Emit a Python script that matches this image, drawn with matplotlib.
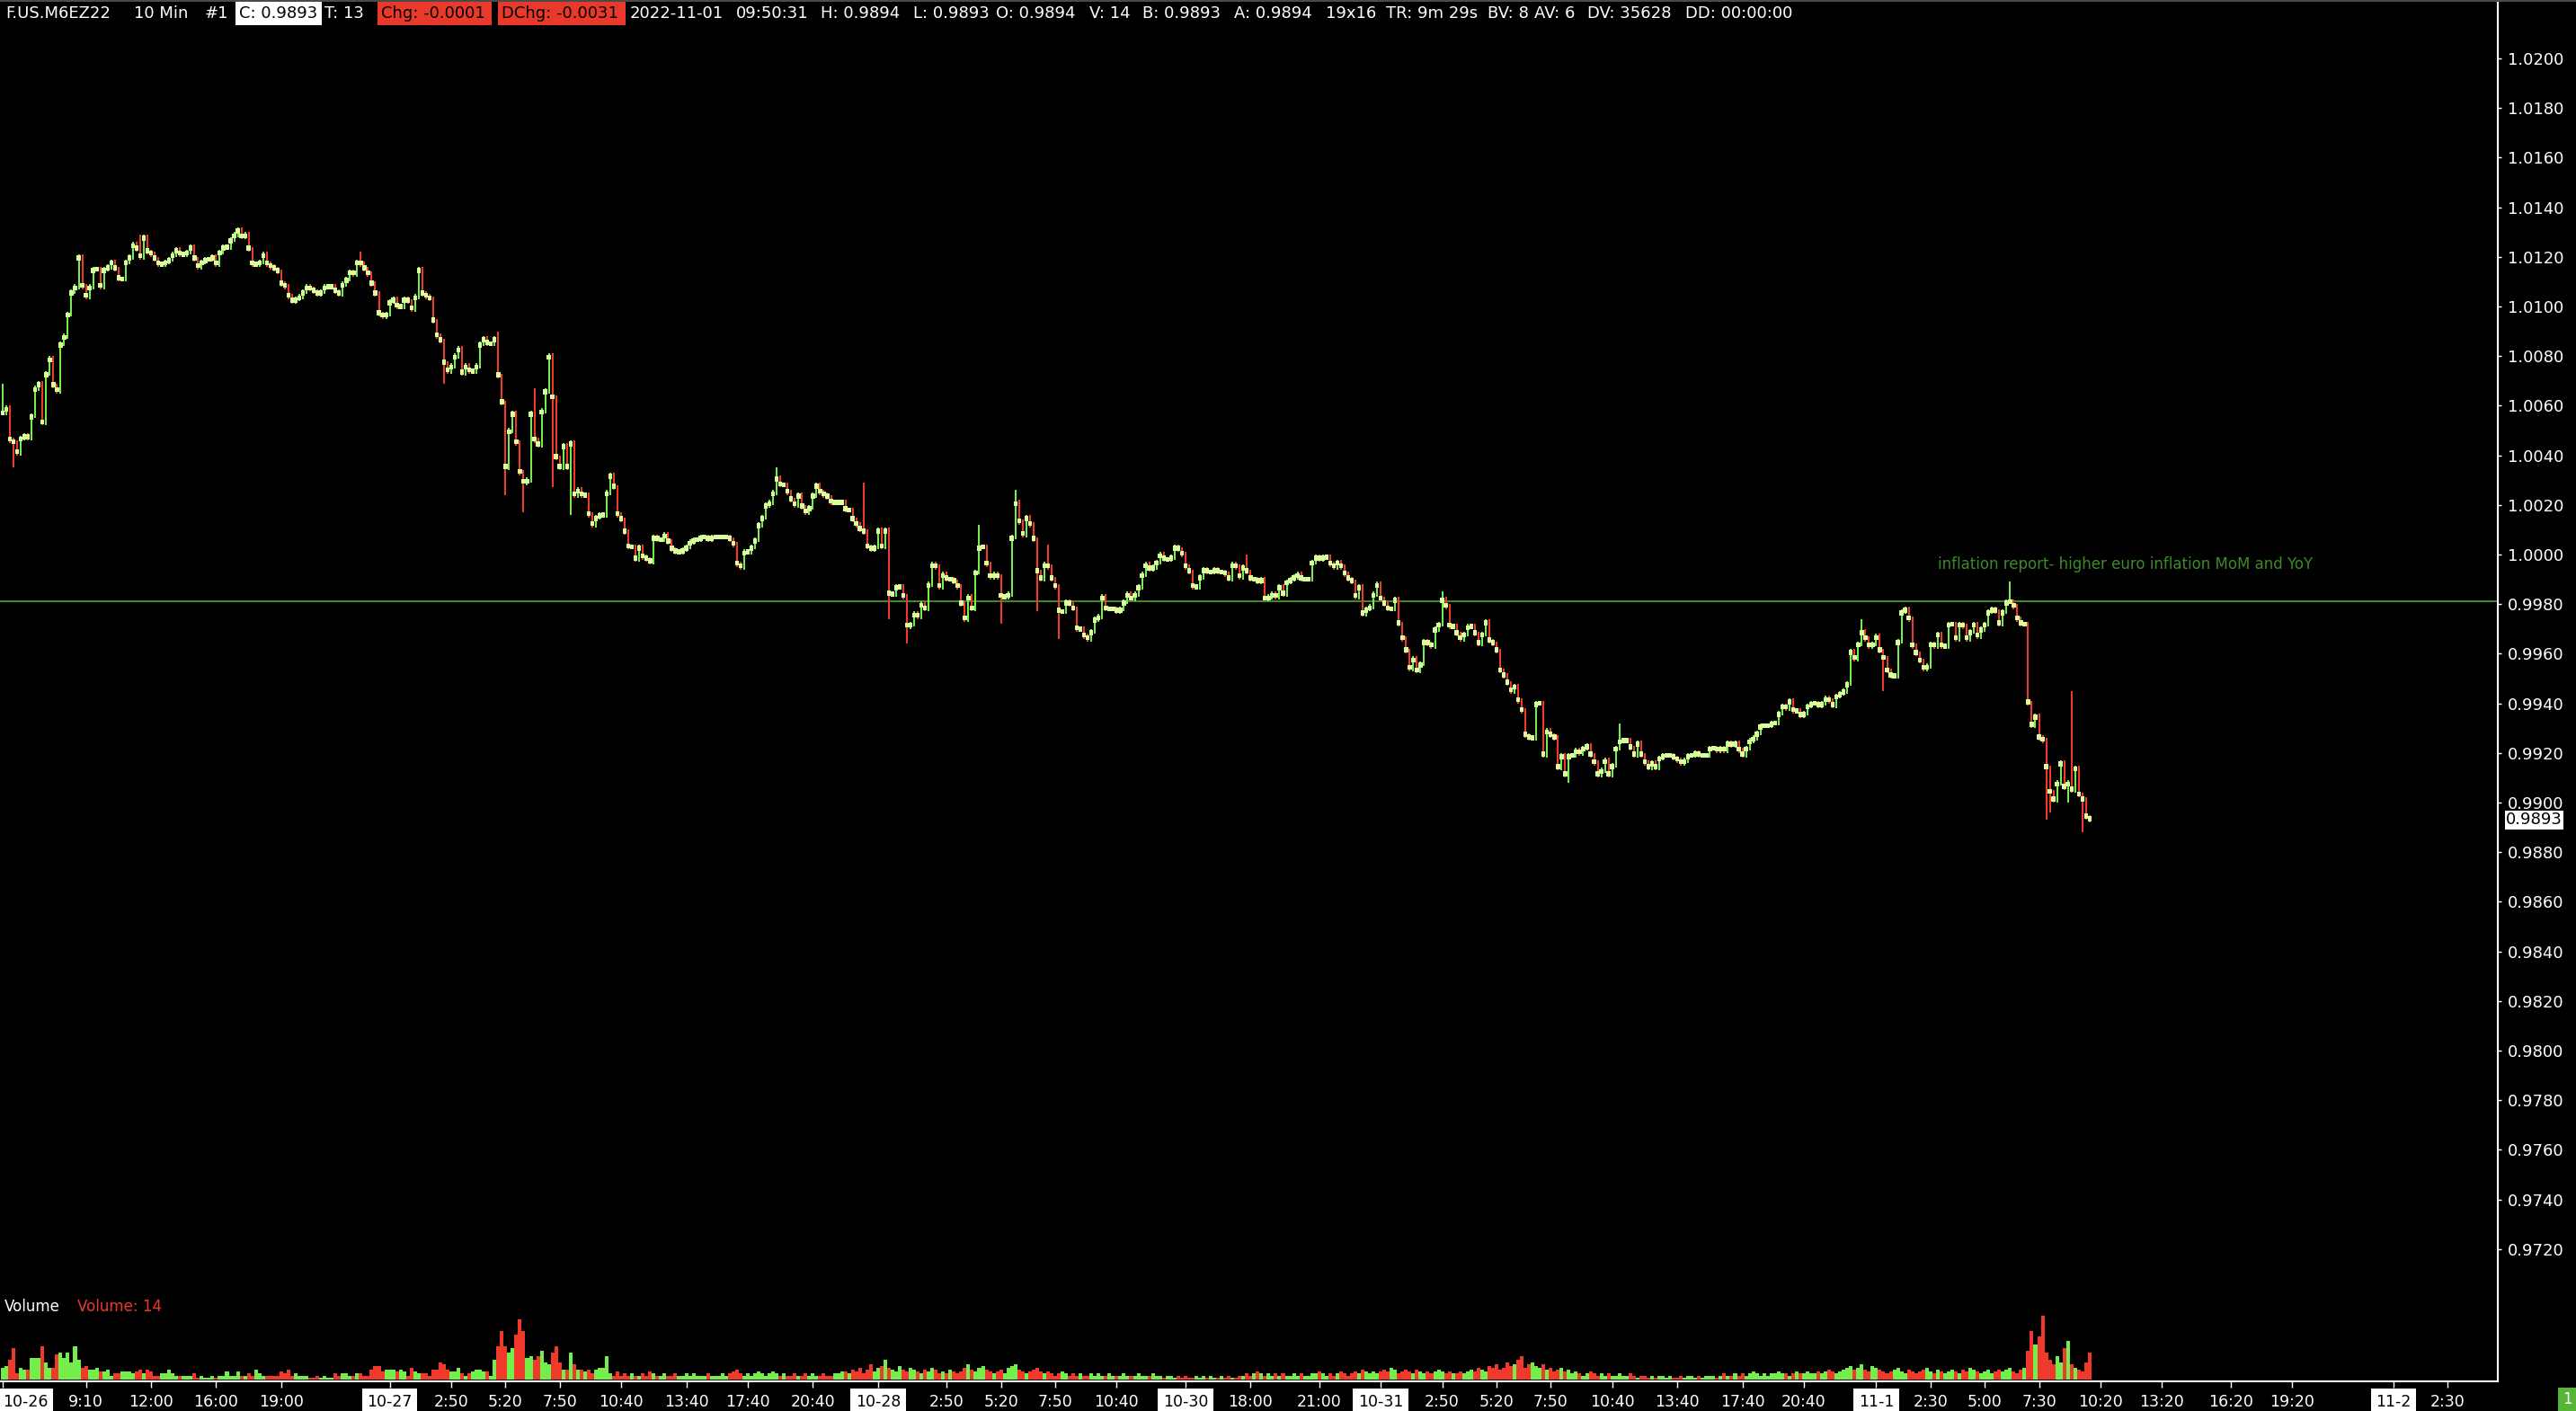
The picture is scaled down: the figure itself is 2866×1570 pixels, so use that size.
import numpy as np
import matplotlib
matplotlib.use("Agg")
import matplotlib.pyplot as plt
from matplotlib import transforms
from matplotlib.patches import Rectangle

# 10 min closes of F.US.M6EZ22 in ticks of 0.0001 (10057 -> 1.0057)
close_ticks = [
    # 10-26
    10057, 10059, 10046, 10045, 10041, 10047, 10048, 10047, 10056, 10067,
    10069, 10053, 10073, 10079, 10068, 10066, 10085, 10088, 10097, 10106,
    10108, 10120, 10108, 10104, 10108, 10115, 10115, 10108, 10115, 10116,
    10118, 10115, 10111, 10111, 10118, 10120, 10125, 10123, 10120, 10128,
    10122, 10121, 10119, 10117, 10117, 10118, 10119, 10121, 10123, 10121,
    10121, 10122, 10124, 10119, 10116, 10118, 10119, 10119, 10120, 10117,
    10122, 10124, 10124, 10127, 10129, 10131, 10128, 10129, 10123, 10117,
    10117, 10118, 10121, 10117, 10116, 10115, 10114, 10109, 10108, 10104,
    10102, 10103, 10104, 10106, 10108, 10107, 10106, 10105, 10106, 10108,
    10108, 10108, 10106, 10105, 10109, 10111, 10114, 10113, 10118, 10117,
    10115, 10113, 10109, 10105, 10097, 10096, 10097, 10102, 10103, 10100,
    10100, 10103, 10102, 10099, 10104, 10115, 10105, 10104, 10103, 10094,
    10088, 10086, 10077, 10074, 10076, 10080, 10083, 10073, 10076, 10074,
    10074, 10076, 10085, 10087, 10085, 10085, 10087, 10072, 10061, 10035,
    10050, 10057, 10045, 10033, 10029, 10030, 10057, 10046, 10044, 10058,
    10066, 10080, 10063, 10039, 10035, 10044, 10035, 10045, 10024, 10026,
    10024,
    # 10-27 afternoon / 10-28
    10024, 10016, 10012, 10015, 10016, 10016, 10025, 10032, 10027, 10016,
    10014, 10009, 10003, 10003, 9998, 10003, 9999, 9998, 9997, 10007,
    10006, 10006, 10008, 10005, 10002, 10001, 10001, 10002, 10003, 10005,
    10006, 10006, 10007, 10007, 10006, 10007, 10007, 10007, 10007, 10007,
    10006, 10004, 9996, 9995, 10001, 10001, 10003, 10006, 10012, 10015,
    10020, 10021, 10025, 10031, 10028, 10028, 10025, 10022, 10020, 10024,
    10019, 10017, 10019, 10024, 10028, 10025, 10024, 10023, 10021, 10021,
    10021, 10021, 10018, 10018, 10014, 10012, 10010, 10009, 10003, 10002,
    10003, 10010, 10003, 10010, 9984, 9984, 9987, 9987, 9983, 9971,
    9972, 9976, 9975, 9980, 9978, 9988, 9996, 9995, 9987, 9992,
    9990, 9990, 9989, 9987, 9980, 9974, 9983, 9978, 9993, 10003,
    10003, 9996, 9991, 9992, 9991, 9983, 9983, 9984, 10007, 10021,
    10013, 10008, 10015, 10012, 10006, 9993, 9990, 9996, 9995, 9990,
    9987, 9977, 9977, 9981, 9980, 9978, 9970, 9970, 9967, 9966,
    9969, 9974, 9975, 9983, 9978, 9978, 9978, 9977, 9978, 9981,
    9984, 9982, 9984, 9987, 9992, 9996, 9994, 9995, 9997, 10000,
    9998, 9998, 9999, 10003, 10002, 10000, 9995, 9993, 9987, 9987,
    9991, 9994, 9993, 9993, 9994, 9993, 9993, 9992, 9990, 9996,
    9995, 9991, 9995, 9993, 9990, 9990, 9989,
    # 10-30 / 10-31
    9990, 9982, 9983, 9984, 9983, 9987, 9984, 9989, 9990, 9991,
    9992, 9990, 9990, 9990, 9997, 9999, 9998, 9999, 9999, 9996,
    9995, 9997, 9995, 9992, 9990, 9989, 9983, 9987, 9976, 9978,
    9979, 9984, 9988, 9982, 9980, 9978, 9978, 9982, 9972, 9966,
    9961, 9954, 9958, 9953, 9956, 9965, 9964, 9963, 9970, 9972,
    9982, 9979, 9971, 9971, 9968, 9966, 9968, 9971, 9971, 9968,
    9964, 9968, 9973, 9965, 9964, 9961, 9953, 9951, 9948, 9945,
    9947, 9941, 9937, 9927, 9926, 9926, 9940, 9940, 9919, 9929,
    9927, 9926, 9914, 9919, 9911, 9919, 9919, 9921, 9920, 9922,
    9923, 9919, 9916, 9911, 9913, 9917, 9911, 9915, 9922, 9925,
    9925, 9925, 9922, 9919, 9924, 9919, 9916, 9914, 9916, 9914,
    9918, 9919, 9919, 9919, 9918, 9917, 9916, 9917, 9919, 9919,
    9920, 9919, 9919, 9919, 9922, 9922, 9921, 9922, 9921, 9924,
    9923, 9924, 9921, 9919, 9922, 9925, 9926, 9928, 9931, 9931,
    9931, 9932, 9932, 9936, 9939, 9938, 9941, 9937, 9937, 9935,
    9936, 9939, 9940, 9940, 9939, 9940, 9942, 9941, 9939, 9943,
    9944, 9945, 9948, 9961, 9958, 9964, 9969, 9966, 9963, 9964,
    9967, 9961, 9958, 9953, 9951, 9951,
    # 11-1
    9965, 9977, 9978, 9974, 9963, 9960, 9957, 9954, 9955, 9964,
    9963, 9968, 9963, 9963, 9972, 9972, 9966, 9972, 9971, 9966,
    9969, 9972, 9967, 9970, 9972, 9977, 9978, 9977, 9972, 9977,
    9981, 9981, 9979, 9974, 9972, 9972, 9940, 9931, 9935, 9926,
    9925, 9914, 9904, 9901, 9908, 9916, 9906, 9908, 9905, 9914,
    9903, 9901, 9894, 9893,
]

volume = [
    6, 7, 10, 16, 3, 6, 5, 5, 11, 11,
    11, 17, 9, 6, 6, 13, 14, 11, 14, 9,
    17, 10, 6, 7, 5, 5, 6, 4, 4, 5,
    2, 3, 3, 4, 4, 4, 3, 4, 5, 3,
    5, 4, 2, 2, 3, 3, 5, 3, 2, 2,
    2, 2, 2, 3, 1, 2, 1, 1, 2, 1,
    2, 2, 4, 2, 2, 4, 2, 2, 3, 2,
    5, 3, 2, 2, 2, 2, 2, 4, 3, 5,
    2, 3, 2, 2, 2, 1, 1, 2, 1, 2,
    1, 1, 3, 2, 3, 3, 2, 2, 3, 3,
    2, 2, 5, 7, 7, 4, 5, 5, 5, 4,
    5, 4, 2, 6, 4, 3, 3, 3, 2, 5,
    5, 9, 8, 5, 4, 4, 6, 3, 2, 3,
    4, 5, 5, 4, 4, 2, 10, 17, 25, 17,
    14, 16, 23, 31, 25, 11, 12, 10, 12, 15,
    9, 8, 14, 17, 9, 5, 5, 14, 8, 5,
    5, 4, 5, 3, 5, 6, 6, 12, 3, 2,
    4, 2, 3,
    2, 3, 2, 2, 3, 2, 4, 3, 2, 2, 3, 2, 2, 3, 2, 2, 3, 2, 3, 2,
    2, 2, 3, 2, 2, 2, 3, 2, 3, 4, 5, 3, 2, 3, 2, 3, 4, 3, 2, 3,
    4, 3, 2, 3, 2, 2, 3, 2, 2, 3, 2, 3, 2, 2, 3, 2, 2, 3, 3, 4,
    4, 3, 5, 4, 6, 3, 5, 8, 4, 6, 7, 10, 6, 5, 4, 7, 5, 4, 6, 5,
    4, 3, 5, 4, 6, 5, 3, 4, 3, 5, 4, 3, 4, 6, 8, 5, 4, 6, 7, 5,
    4, 3, 4, 5, 3, 6, 7, 8, 5, 4, 3, 4, 5, 6, 4, 3, 4, 3, 2, 3,
    4, 3, 2, 3, 2, 3, 2, 2, 3, 2, 3, 2, 2, 3, 2, 2, 2, 3, 2, 2,
    2, 3, 2, 2, 2, 3, 2, 2, 1, 2, 2, 1, 2, 1, 2, 1, 1, 2, 1, 2,
    1, 2, 1, 1, 2, 1, 2, 1, 1, 2, 2, 3, 2, 3, 4, 3, 2, 3, 2, 3,
    2, 3, 2, 2, 3, 2, 3, 2, 2, 3, 3, 4, 3, 2, 3, 2, 3, 4, 3, 2,
    3, 4, 3, 5, 4, 3, 4, 3, 4, 5, 4, 6, 5, 3, 4, 5, 4, 3, 5, 4,
    3, 4, 3, 4, 5, 4, 3, 4, 3, 3, 4, 3, 4, 5, 4, 6, 5, 4, 7, 6,
    8, 5, 6, 9, 7, 8, 10, 12, 6, 8, 9, 7, 6, 8, 5, 6, 4, 5, 6, 4,
    5, 3, 4, 3, 2, 3, 4, 3, 2, 3, 2, 3, 2, 2, 3, 2, 2, 3, 2, 1,
    2, 2, 1, 2, 1, 2, 2, 1, 2, 1, 1, 2, 1, 2, 2, 1, 2, 1, 2, 2,
    2, 1, 2, 3, 2, 2, 3, 2, 3, 2, 3, 4, 3, 2, 3, 2, 3, 3, 4, 3,
    3, 2, 3, 4, 3, 3, 4, 3, 3, 4, 3, 4, 5, 4, 3, 4, 5, 6, 7, 5,
    6, 8, 5, 4, 7, 6, 5, 4, 3, 4, 5, 6, 4, 3, 5, 4, 3, 4, 5, 6,
    4, 3, 5, 4, 3, 4, 5, 4, 3, 5, 4, 6, 5, 4, 3, 4, 5, 3, 4, 5,
    4, 5, 6, 4, 3, 5, 6, 15, 25, 18, 22, 33, 14, 10, 8, 12, 9, 16, 20, 8,
    6, 5, 4, 9, 14,
]

# bars whose wick reaches further than the neighbouring closes (bar index, price in ticks)
spike_bar = [0, 3, 38, 65, 99, 115, 122, 137, 139, 144, 147, 152, 157,
             214, 238, 245, 250, 270, 276, 280, 286, 289, 292, 344,
             398, 433, 447, 514, 520, 555, 565, 566, 571, 572, 575]
spike_ticks = [10069, 10035, 10129, 10132, 10122, 10116, 10069, 10090, 10024, 10017, 10067, 10027, 10016,
               10035, 10029, 9974, 9964, 10012, 9972, 10026, 9977, 10004, 9966, 10000,
               9985, 9908, 9932, 9974, 9945, 9989, 9893, 9896, 9900, 9945, 9888]

hline_price = 0.9981
note = "inflation report- higher euro inflation MoM and YoY"

price_ticks = [0.9720, 0.9740, 0.9760, 0.9780, 0.9800, 0.9820, 0.9840, 0.9860, 0.9880,
               0.9900, 0.9920, 0.9940, 0.9960, 0.9980, 1.0000, 1.0020, 1.0040, 1.0060,
               1.0080, 1.0100, 1.0120, 1.0140, 1.0160, 1.0180, 1.0200]

time_ticks = [0, 23, 41, 59, 77, 107, 124, 139, 154, 171, 189, 206, 224, 242, 261, 276, 291,
              308, 327, 345, 364, 381, 398, 413, 428, 445, 463, 481, 498, 518, 533, 548,
              563, 580, 597, 616, 633, 661, 676]
time_labels = ["10-26", "9:10", "12:00", "16:00", "19:00", "10-27", "2:50", "5:20", "7:50",
               "10:40", "13:40", "17:40", "20:40", "10-28", "2:50", "5:20", "7:50", "10:40",
               "10-30", "18:00", "21:00", "10-31", "2:50", "5:20", "7:50", "10:40", "13:40",
               "17:40", "20:40", "11-1", "2:30", "5:00", "7:30", "10:20", "13:20", "16:20",
               "19:20", "11-2", "2:30"]
date_labels = {"10-26", "10-27", "10-28", "10-30", "10-31", "11-1", "11-2"}

assert len(close_ticks) == len(volume), (len(close_ticks), len(volume))

RED = "#f0392a"
GREEN = "#74ee4a"
BODY = "#d8ff9c"

plt.rcParams["font.family"] = ["DejaVu Sans"]

W, H = 2866, 1570


def px_rect(x0, y0, x1, y1):
    # pixel box (top-left origin) -> figure fraction rect
    return [x0 / W, 1 - y1 / H, (x1 - x0) / W, (y1 - y0) / H]


fig = plt.figure(figsize=(W / 100, H / 100), dpi=100, facecolor="black")
ax = fig.add_axes(px_rect(0, 3, 2779, 1420))
axv = fig.add_axes(px_rect(0, 1440, 2779, 1537), sharex=ax)
for a in (ax, axv):
    a.set_facecolor("black")
    for s in a.spines.values():
        s.set_visible(False)

# build OHLC from the closes
c = np.array(close_ticks, dtype=float)
prev = np.r_[c[0], c[:-1]]
step = np.sign(c - prev)
o = c - step
hi = np.maximum(prev, c) + 1
lo = np.minimum(prev, c) - 1
for b, v in zip(spike_bar, spike_ticks):
    if v > c[b]:
        hi[b] = max(hi[b], v)
    else:
        lo[b] = min(lo[b], v)
up = c >= o
cols = np.where(up, GREEN, RED)
x = np.arange(len(c))

ax.vlines(x, lo / 1e4, hi / 1e4, colors=cols, linewidth=1.2, antialiased=False, zorder=2)
mid = (o + c) / 2
bh = np.maximum(np.abs(c - o), 2.0)
ax.bar(x, bh / 1e4, bottom=(mid - bh / 2) / 1e4, width=1.1, color=BODY,
       linewidth=0, antialiased=False, zorder=3)

ax.axhline(hline_price, color="#46962c", linewidth=1.3, zorder=1)
ax.text(535, hline_price + 0.0015, note, color="#3d8b28", fontsize=12,
        va="center", ha="left")

ax.set_xlim(-0.75, 689.86)
ax.set_ylim(0.970906, 1.022246)

ax.yaxis.tick_right()
ax.set_yticks(price_ticks)
ax.set_yticklabels([f"{v:.4f}" for v in price_ticks])
ax.tick_params(axis="y", colors="white", length=3, width=1, pad=5, labelsize=13)
ax.tick_params(axis="x", bottom=False, labelbottom=False)

# last price marker
tr = transforms.blended_transform_factory(ax.transAxes, ax.transData)
ax.text(2788 / 2779, c[-1] / 1e4, f"{c[-1] / 1e4:.4f}", transform=tr, color="black",
        fontsize=13, va="center", ha="left", clip_on=False, zorder=10,
        bbox=dict(facecolor="white", edgecolor="none", pad=1))

# volume panel
axv.bar(x, volume, width=1.0, color=cols, linewidth=0, antialiased=False)
axv.set_ylim(-0.93, 43.9)
axv.set_yticks([])
axv.spines["bottom"].set_visible(True)
axv.spines["bottom"].set_color("white")
axv.spines["bottom"].set_linewidth(1.5)
axv.set_xticks(time_ticks)
axv.set_xticklabels(time_labels)
axv.tick_params(axis="x", colors="white", length=5, width=1, pad=5, labelsize=12.5)
for lab in axv.get_xticklabels():
    if lab.get_text() in date_labels:
        lab.set_color("black")
        lab.set_bbox(dict(facecolor="white", edgecolor="none", pad=4))
axv.get_xticklabels()[0].set_horizontalalignment("left")

# overlay in pixel coordinates for the header and frame
ov = fig.add_axes([0, 0, 1, 1])
ov.set_xlim(0, W)
ov.set_ylim(H, 0)
ov.axis("off")
ov.patch.set_visible(False)

ov.add_patch(Rectangle((0, 0), W, 2, color="#4a4a4a", lw=0))
ov.plot([2779, 2779], [2, 1538], color="white", linewidth=1.5, solid_capstyle="butt")

hy = 15
plain = [(6, "F.US.M6EZ22"), (149, "10 Min"), (228, "#1"), (361, "T: 13"),
         (701, "2022-11-01"), (819, "09:50:31"), (913, "H: 0.9894"), (1016, "L: 0.9893"),
         (1108, "O: 0.9894"), (1212, "V: 14"), (1271, "B: 0.9893"), (1373, "A: 0.9894"),
         (1475, "19x16"), (1542, "TR: 9m 29s"), (1655, "BV: 8"), (1707, "AV: 6"),
         (1766, "DV: 35628"), (1875, "DD: 00:00:00")]
for hx, t in plain:
    ov.text(hx, hy, t, color="white", fontsize=13, va="center", ha="left")

boxes = [(262, 358, "white", "C: 0.9893"), (420, 547, "#e8392a", "Chg: -0.0001"),
         (554, 696, "#e8392a", "DChg: -0.0031")]
for bx0, bx1, fc, t in boxes:
    ov.add_patch(Rectangle((bx0, 2), bx1 - bx0, 26, color=fc, lw=0))
    ov.text(bx0 + 4, hy, t, color="black", fontsize=13, va="center", ha="left")

ov.text(5, 1454, "Volume", color="white", fontsize=12, va="center", ha="left")
ov.text(86, 1454, f"Volume: {volume[-1]}", color=RED, fontsize=12, va="center", ha="left")

ov.add_patch(Rectangle((2846, 1544), 20, 26, color="#56b536", lw=0))
ov.text(2856, 1557, "1", color="white", fontsize=12, va="center", ha="center")

fig.savefig("out.png", dpi=100, facecolor="black")
